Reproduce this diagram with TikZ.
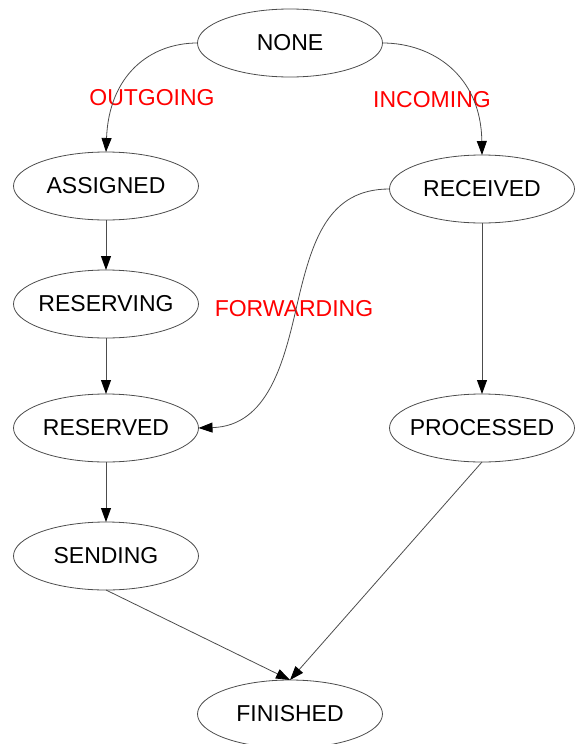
\documentclass[tikz,border=0pt]{standalone}
\usepackage{fontspec}
\setmainfont{Liberation Sans}
\usetikzlibrary{shapes.geometric,arrows.meta}

\tikzset{
  state/.style={ellipse, draw=black!70, line width=0.8pt, minimum width=185pt,
    minimum height=68pt, inner sep=0pt, outer sep=0pt,
    font=\fontsize{23}{27}\selectfont},
  edgelabel/.style={text=red, inner sep=0pt, font=\fontsize{23}{27}\selectfont},
  flow/.style={draw=black!70, line width=0.8pt,
    -{Triangle[length=14pt, width=10pt, fill=black, color=black]}}
}

\newcommand{\statetext}[1]{\makebox[0pt]{#1}}

\begin{document}
\begin{tikzpicture}[x=1pt, y=-1pt]
  \useasboundingbox (0,0) rectangle (576,744);

  % states
  \node[state] (none)      at (290,43)  {\statetext{NONE}};
  \node[state] (assigned)  at (106,186) {\statetext{ASSIGNED}};
  \node[state] (received)  at (482,189) {\statetext{RECEIVED}};
  \node[state] (reserving) at (106,304) {\statetext{RESERVING}};
  \node[state] (reserved)  at (106,428) {\statetext{RESERVED}};
  \node[state] (processed) at (482,428) {\statetext{PROCESSED}};
  \node[state] (sending)   at (106,556) {\statetext{SENDING}};
  \node[state] (finished)  at (290,714) {\statetext{FINISHED}};

  % edge labels
  \node[edgelabel] (lout) at (152,98)  {OUTGOING};
  \node[edgelabel] (linc) at (432,100) {INCOMING};
  \node[edgelabel] (lfwd) at (294,309) {FORWARDING};

  % transitions
  \draw[flow] (none.west) .. controls (150,43) and (109,75) .. (assigned.north);
  \draw[flow] (none.east) .. controls (432,43) and (481,75) .. (received.north);
  \draw[flow] (assigned) -- (reserving);
  \draw[flow] (reserving) -- (reserved);
  \draw[flow] (received.west) .. controls (328,189) and (312,240) .. (297,305)
                               .. controls (284,362) and (268,426) .. (reserved.east);
  \draw[flow] (received) -- (processed);
  \draw[flow] (reserved) -- (sending);
  \draw[flow] (sending.south) -- (finished.north);
  \draw[flow] (processed.south) -- (finished.north);
\end{tikzpicture}
\end{document}
